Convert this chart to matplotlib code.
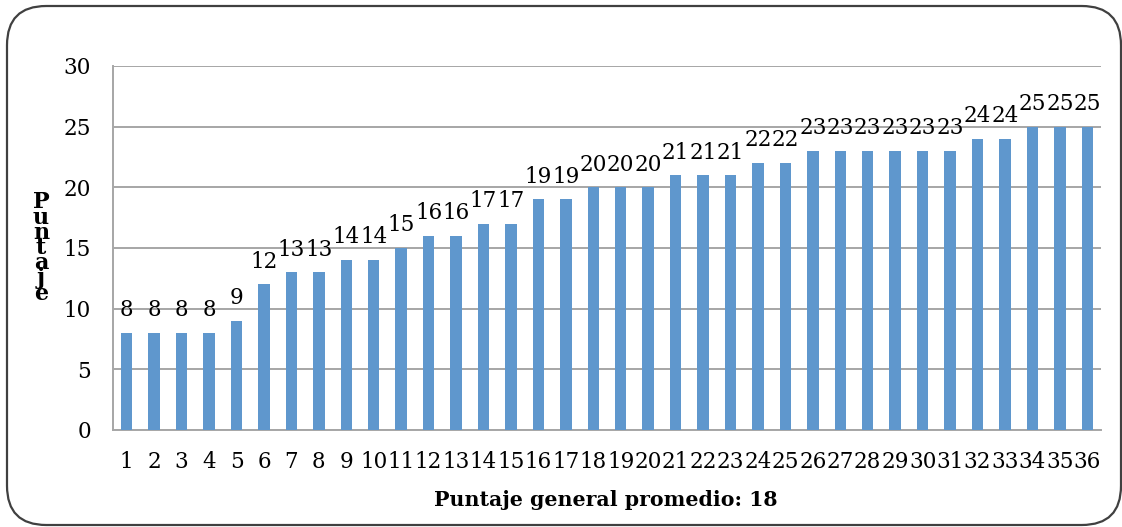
import matplotlib
matplotlib.use("Agg")
import matplotlib.pyplot as plt
from matplotlib.patches import FancyBboxPatch

categories = [str(i) for i in range(1, 37)]
values = [8, 8, 8, 8, 9, 12, 13, 13, 14, 14, 15, 16, 16, 17, 17, 19, 19, 20, 20, 20,
          21, 21, 21, 22, 22, 23, 23, 23, 23, 23, 23, 24, 24, 25, 25, 25]
yticks = [0, 5, 10, 15, 20, 25, 30]
ylabel = "Puntaje"
xlabel = "Puntaje general promedio: 18"

plt.rcParams['font.family'] = ['DejaVu Serif']
W, H = 1122, 527
fig = plt.figure(figsize=(W / 100, H / 100), dpi=100)
ax = fig.add_axes([113 / W, 1 - 430 / H, (1101 - 113) / W, (430 - 66) / H])

x = list(range(len(categories)))
bars = ax.bar(x, values, width=0.42, color='#5F97CD', zorder=3)
for xi, v in zip(x, values):
    ax.annotate(str(v), (xi, v), xytext=(0, 12), textcoords='offset points',
                ha='center', va='baseline', fontsize=15.5, zorder=4)

ax.set_xlim(-0.5, len(categories) - 0.5)
ax.set_ylim(0, 30)
ax.set_yticks(yticks)
ax.set_xticks(x)
ax.set_xticklabels(categories)
ax.tick_params(axis='both', length=0, labelsize=15.5)
ax.tick_params(axis='y', pad=16)
ax.tick_params(axis='x', pad=15)
ax.yaxis.grid(True, color='#A6A6A6', linewidth=1.4, zorder=0)
for s in ['top', 'right']:
    ax.spines[s].set_visible(False)
ax.spines['left'].set_color('#A6A6A6')
ax.spines['left'].set_linewidth(1.4)
ax.spines['bottom'].set_color('#A6A6A6')
ax.spines['bottom'].set_linewidth(1.4)

fig.text(41 / W, 1 - 248 / H, "\n".join(ylabel), ha='center', va='center',
         fontsize=16, fontweight='bold', linespacing=0.6)
fig.text(606 / W, 1 - 500 / H, xlabel, ha='center', va='center',
         fontsize=14.8, fontweight='bold')

box = FancyBboxPatch((7 / W, 2 / H), (1121 - 7) / W, (521 - 2) / H,
                     boxstyle="round,pad=0,rounding_size=0.035",
                     transform=fig.transFigure, fill=False,
                     edgecolor='#404040', linewidth=1.6, mutation_aspect=W / H)
fig.patches.append(box)

fig.savefig("out.png", dpi=100)
